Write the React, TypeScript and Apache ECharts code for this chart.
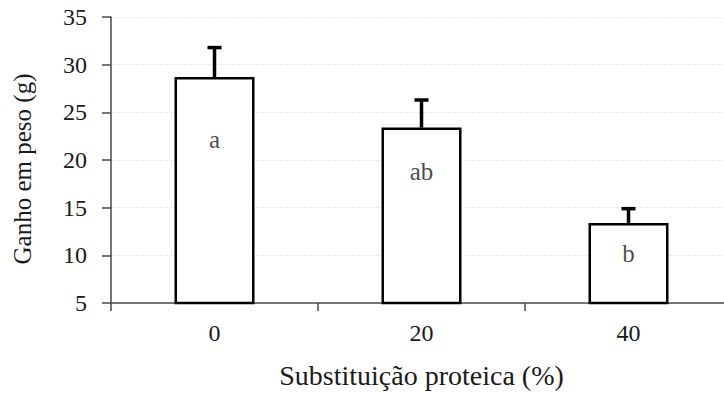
import React, { useEffect, useRef } from "react";
import * as echarts from "echarts";

const categories = ["0", "20", "40"];
const means = [28.7, 23.4, 13.4];
const upperErrors = [31.9, 26.4, 15.0];
const letters = ["a", "ab", "b"];
const letterY = [22.1, 18.8, 10.2];
const yTicks = { min: 5, max: 35, interval: 5 };

const FONT = "Liberation Serif";

export default function App() {
  const ref = useRef<HTMLDivElement>(null);
  useEffect(() => {
    document.body.style.margin = "0";
    const chart = echarts.init(ref.current!, null, { renderer: "svg" });
    chart.setOption({
      animation: false,
      backgroundColor: "#ffffff",
      textStyle: { fontFamily: FONT },
      grid: { left: 111, right: -8, top: 17, bottom: 90, outerBoundsMode: "none", containLabel: false },
      xAxis: {
        type: "category",
        data: categories,
        axisLine: { show: true, lineStyle: { color: "#4a4a4a", width: 1.5 } },
        axisTick: { show: true, alignWithLabel: false, length: 8, lineStyle: { color: "#4a4a4a", width: 1.5 } },
        axisLabel: { fontFamily: FONT, fontSize: 24, color: "#1a1a1a", margin: 18 },
        name: "Substituição proteica (%)",
        nameLocation: "middle",
        nameGap: 58,
        nameTextStyle: { fontFamily: FONT, fontSize: 28, color: "#1a1a1a" },
      },
      yAxis: {
        type: "value",
        min: yTicks.min,
        max: yTicks.max,
        interval: yTicks.interval,
        axisLine: { show: true, lineStyle: { color: "#4a4a4a", width: 1.5 } },
        axisTick: { show: true, length: 9, lineStyle: { color: "#4a4a4a", width: 1.5 } },
        axisLabel: { fontFamily: FONT, fontSize: 24, color: "#1a1a1a", margin: 24 },
        splitLine: { show: true, lineStyle: { color: "#ececec", type: "dashed", width: 1 } },
      },
      graphic: [
        {
          type: "text",
          x: 22,
          y: 169,
          rotation: Math.PI / 2,
          style: {
            text: "Ganho em peso (g)",
            fontFamily: FONT,
            fontSize: 25,
            fill: "#1a1a1a",
            textAlign: "center",
            textVerticalAlign: "middle",
          },
        },
      ],
      series: [
        {
          type: "bar",
          data: means,
          barWidth: 80,
          itemStyle: { color: "#ffffff", borderColor: "#000000", borderWidth: 2.5 },
          z: 2,
        },
        {
          type: "custom",
          data: means.map((m, i) => [i, m, upperErrors[i]]),
          renderItem: (params: any, api: any) => {
            const i = api.value(0);
            const base = api.coord([i, api.value(1)]);
            const top = api.coord([i, api.value(2)]);
            return {
              type: "group",
              children: [
                {
                  type: "line",
                  shape: { x1: base[0], y1: base[1], x2: top[0], y2: top[1] },
                  style: { stroke: "#000", lineWidth: 3.5 },
                },
                {
                  type: "line",
                  shape: { x1: top[0] - 7, y1: top[1] + 1, x2: top[0] + 7, y2: top[1] + 1 },
                  style: { stroke: "#000", lineWidth: 3.5 },
                },
              ],
            };
          },
          z: 3,
        },
        {
          type: "scatter",
          data: letterY.map((v, i) => [i, v]),
          symbolSize: 0,
          label: {
            show: true,
            position: "inside",
            formatter: (p: any) => letters[p.dataIndex],
            fontFamily: FONT,
            fontSize: 25,
            color: "#1a1a1a",
          },
          z: 4,
        },
      ],
    });
    return () => chart.dispose();
  }, []);
  return <div ref={ref} style={{ width: 724, height: 393 }} />;
}
